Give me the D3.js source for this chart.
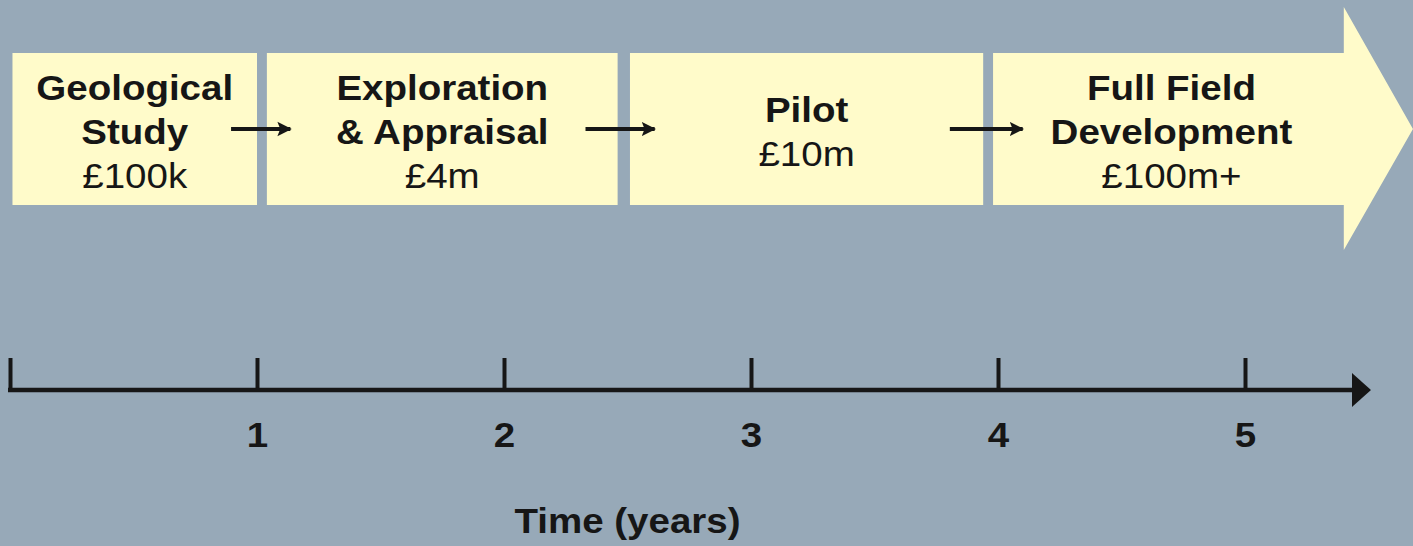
<html>
<head>
  <meta charset="UTF-8">
  <title>Project stages timeline</title>
  <script src="https://cdn.jsdelivr.net/npm/d3@7"></script>
  <style>
    body { margin: 0; background: #97a9b8; }
    text { font-family: "Liberation Sans", Arial, sans-serif; fill: #161616; }
  </style>
</head>
<body>
<svg width="1413" height="546"></svg>
<script>
// stages, in years along the time axis
var stageNames = [["Geological", "Study"], ["Exploration", "& Appraisal"], ["Pilot"], ["Full Field", "Development"]];
var stageCosts = ["£100k", "£4m", "£10m", "£100m+"];
var stageStart = [0.01, 1.04, 2.51, 3.98];
var stageEnd   = [1.0, 2.46, 3.94, 5.4];
var arrowTip = 5.68;
// small arrows between stages (years)
var linkFrom = [0.895, 2.33, 3.805];
var linkTo   = [1.135, 2.61, 4.1];
var tickValues = [0, 1, 2, 3, 4, 5];
var tickLabels = ["", "1", "2", "3", "4", "5"];
var axisEnd = 5.51;

var svg = d3.select("svg");
var W = 1413, H = 546;
var bg = "#97a9b8", boxFill = "#fffbca", ink = "#161616";

svg.append("rect").attr("width", W).attr("height", H).attr("fill", bg);

var x = d3.scaleLinear().domain([0, 5]).range([10, 1245]);

var boxTop = 53, boxBottom = 205, boxMid = (boxTop + boxBottom) / 2;
var fs = 35, stretch = 1.1;

var defs = svg.append("defs");
defs.append("marker").attr("id", "smallHead")
    .attr("viewBox", "0 0 10 10").attr("refX", 9).attr("refY", 5)
    .attr("markerWidth", 3.6).attr("markerHeight", 4.6).attr("orient", "auto")
    .attr("markerUnits", "strokeWidth")
  .append("path").attr("d", "M0,0 L10,5 L0,10 L2,5 z").attr("fill", ink);

// stage boxes
var stages = d3.range(stageNames.length).map(function(i) {
  return { names: stageNames[i], cost: stageCosts[i], s: stageStart[i], e: stageEnd[i], last: i === stageNames.length - 1 };
});

svg.selectAll("path.stage").data(stages).enter().append("path")
    .attr("class", "stage")
    .attr("fill", boxFill)
    .attr("d", function(d) {
      var x0 = x(d.s), x1 = x(d.e);
      if (!d.last) {
        return "M" + x0 + "," + boxTop + "H" + x1 + "V" + boxBottom + "H" + x0 + "Z";
      }
      return "M" + x0 + "," + boxTop + "H" + x1 + "V7L" + x(arrowTip) + "," + boxMid +
             "L" + x1 + ",250V" + boxBottom + "H" + x0 + "Z";
    });

// stage labels
var labels = svg.selectAll("g.lab").data(stages).enter().append("g").attr("class", "lab");
labels.each(function(d) {
  var g = d3.select(this);
  var cx = (x(d.s) + x(d.e)) / 2 + (d.last ? 3 : 0);
  var lines = d.names.map(function(n) { return { t: n, bold: true }; }).concat([{ t: d.cost, bold: false }]);
  var first = lines.length === 3 ? 100 : 122;
  lines.forEach(function(l, j) {
    g.append("text")
      .attr("transform", "translate(" + cx + "," + (first + j * 44) + ") scale(" + stretch + ",1)")
      .attr("text-anchor", "middle")
      .attr("font-size", fs)
      .attr("font-weight", l.bold ? "bold" : "normal")
      .text(l.t);
  });
});

// connector arrows
svg.selectAll("line.link").data(linkFrom).enter().append("line")
    .attr("class", "link")
    .attr("x1", function(d) { return x(d); })
    .attr("x2", function(d, i) { return x(linkTo[i]); })
    .attr("y1", boxMid).attr("y2", boxMid)
    .attr("stroke", ink).attr("stroke-width", 4)
    .attr("marker-end", "url(#smallHead)");

// time axis
var axisY = 390;
var axis = d3.axisBottom(x)
    .tickValues(tickValues)
    .tickFormat(function(d, i) { return tickLabels[i]; })
    .tickSizeInner(-32).tickSizeOuter(0).tickPadding(0);

var gAxis = svg.append("g").attr("transform", "translate(0," + axisY + ")").call(axis);
gAxis.select(".domain").remove();
gAxis.selectAll(".tick line").attr("stroke", ink).attr("stroke-width", 4);
gAxis.selectAll(".tick text")
    .attr("y", 57).attr("dy", null).attr("x", 0)
    .attr("fill", ink)
    .attr("font-size", fs).attr("font-weight", "bold")
    .attr("font-family", "Liberation Sans, Arial, sans-serif")
    .attr("transform", "scale(" + stretch + ",1)");

svg.append("line")
    .attr("x1", x(0) - 2).attr("x2", x(axisEnd) - 16)
    .attr("y1", axisY).attr("y2", axisY)
    .attr("stroke", ink).attr("stroke-width", 4.5);
svg.append("path")
    .attr("fill", ink)
    .attr("d", "M" + (x(axisEnd) - 19) + "," + (axisY - 17) + "L" + x(axisEnd) + "," + axisY +
               "L" + (x(axisEnd) - 19) + "," + (axisY + 17) + "Z");

svg.append("text")
    .attr("transform", "translate(" + x(2.5) + ",533) scale(" + stretch + ",1)")
    .attr("text-anchor", "middle")
    .attr("font-size", fs).attr("font-weight", "bold")
    .text("Time (years)");
</script>
</body>
</html>
